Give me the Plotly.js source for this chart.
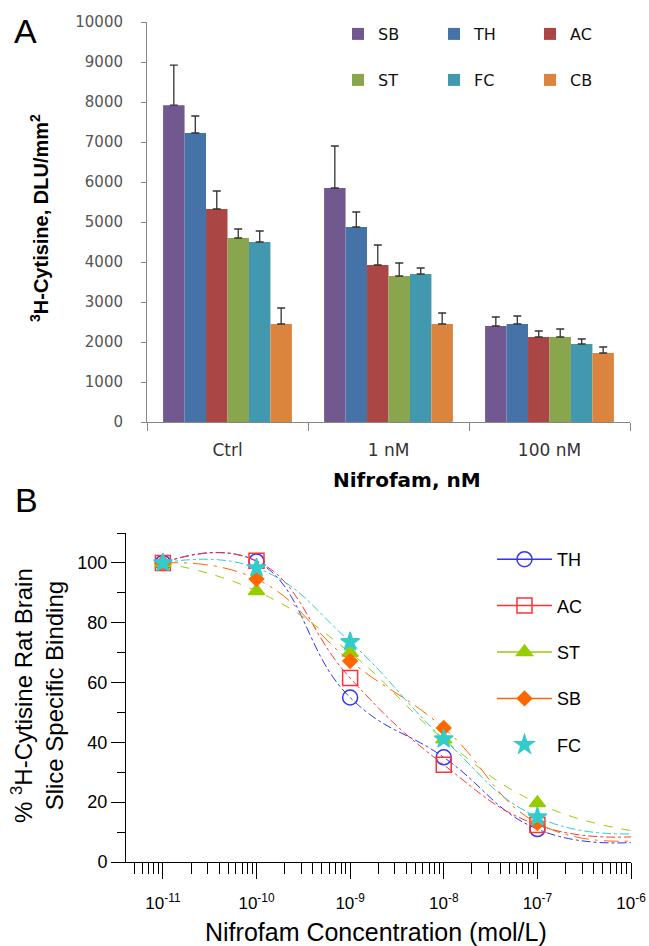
<!DOCTYPE html>
<html><head><meta charset="utf-8">
<script src="https://cdn.plot.ly/plotly-3.0.1.min.js"></script>
<style>html,body{margin:0;padding:0;background:#fff}</style>
</head><body><div id="chart" style="width:649px;height:946px"></div>
<script>
// ---------- Panel A data ----------
const groupsA = ['Ctrl', '1 nM', '100 nM'];
const namesA = ['SB', 'TH', 'AC', 'ST', 'FC', 'CB'];
const sbA = [7920, 5850, 2400], sbAErr = [1000, 1050, 225];
const thA = [7225, 4875, 2450], thAErr = [425, 375, 200];
const acA = [5325, 3925, 2125], acAErr = [450, 500, 150];
const stA = [4600, 3650, 2125], stAErr = [225, 325, 200];
const fcA = [4500, 3700, 1950], fcAErr = [275, 150, 125];
const cbA = [2450, 2450, 1725], cbAErr = [400, 275, 150];
const yTicksA = [0, 1000, 2000, 3000, 4000, 5000, 6000, 7000, 8000, 9000, 10000];

// ---------- Panel B data ----------
const concB = [1e-11, 1e-10, 1e-9, 1e-8, 1e-7, 1e-6];
const concLabelsB = ['10<sup>-11</sup>', '10<sup>-10</sup>', '10<sup>-9</sup>', '10<sup>-8</sup>', '10<sup>-7</sup>', '10<sup>-6</sup>'];
const thB = [100, 100.5, 55, 35, 11, 6.5];
const acB = [100, 100.7, 61.5, 32.5, 12.4, 8.4];
const stB = [100, 90.6, 70, 41, 19.7, 10.5];
const sbB = [100, 94.6, 67.2, 44.8, 13, 7];
const fcB = [100, 98.3, 73.6, 41.1, 15, 9.4];

const W = 649, H = 946;
const px = v => v / W, py = v => 1 - v / H;

const barColors = {SB:'#71588F', TH:'#4572A7', AC:'#AA4643', ST:'#89A54E', FC:'#4198AF', CB:'#DB843D'};
const valsA = {SB:sbA, TH:thA, AC:acA, ST:stA, FC:fcA, CB:cbA};
const errsA = {SB:sbAErr, TH:thAErr, AC:acAErr, ST:stAErr, FC:fcAErr, CB:cbAErr};

const traces = [];
namesA.forEach((n, i) => {
  traces.push({
    type: 'bar', name: n, x: groupsA, y: valsA[n],
    xaxis: 'x', yaxis: 'y',
    legend: i < 3 ? 'legend' : 'legend2',
    marker: {color: barColors[n], line: {width: 0}},
    error_y: {type: 'data', array: errsA[n], symmetric: false, arrayminus: [0,0,0], color: '#333', thickness: 1.3, width: 4},
    hoverinfo: 'skip'
  });
});

const seriesB = [
  {n:'TH', y:thB, c:'#3333ff', sym:'circle-open', sz:15, dash:'dashdot'},
  {n:'AC', y:acB, c:'#ff3333', sym:'square-open', sz:15, dash:'dashdot'},
  {n:'ST', y:stB, c:'#99cc00', sym:'triangle-up', sz:14, dash:'dash'},
  {n:'SB', y:sbB, c:'#ff6600', sym:'diamond', sz:11, dash:'longdashdot'},
  {n:'FC', y:fcB, c:'#33cccc', sym:'star', sz:14, dash:'dashdot'}
];
seriesB.forEach(s => {
  traces.push({
    type: 'scatter', mode: 'lines+markers', name: s.n, x: concB, y: s.y,
    xaxis: 'x2', yaxis: 'y2', showlegend: false, cliponaxis: false,
    line: {color: s.c, width: 1, dash: s.dash, shape: 'spline', smoothing: 1.3},
    marker: {symbol: s.sym, size: s.sz, color: s.c, line: {color: s.c, width: 1.5}},
    hoverinfo: 'skip'
  });
});
// legend entries for panel B (solid line in legend)
seriesB.forEach(s => {
  traces.push({
    type: 'scatter', mode: s.n === 'FC' ? 'markers' : 'lines+markers', name: s.n,
    x: [null], y: [null], xaxis: 'x2', yaxis: 'y2',
    legend: 'legend3', legendgroup: 'g' + s.n,
    line: {color: s.c, width: 1.5},
    marker: {symbol: s.sym, size: s.sz, color: s.c, line: {color: s.c, width: 1.5}},
    hoverinfo: 'skip'
  });
});

const legendFontA = {family: 'DejaVu Sans, sans-serif', size: 16, color: '#111'};
const layout = {
  width: W, height: H,
  margin: {l: 0, r: 0, t: 0, b: 0, autoexpand: false},
  paper_bgcolor: '#fff', plot_bgcolor: 'rgba(0,0,0,0)',
  barmode: 'group', bargap: 0.2, bargroupgap: 0,
  showlegend: true,
  xaxis: {
    domain: [px(147), px(630)], anchor: 'y', type: 'category', automargin: false,
    tickson: 'boundaries', ticks: 'outside', ticklen: 8, tickcolor: '#868686',
    showline: true, linecolor: '#868686', linewidth: 1, showgrid: false,
    tickfont: {family: 'DejaVu Sans, sans-serif', size: 17, color: '#333'},
    ticklabelstandoff: 13, fixedrange: true
  },
  yaxis: {
    domain: [py(422), py(22)], anchor: 'x', range: [0, 10000], automargin: false,
    tickmode: 'array', tickvals: yTicksA, ticktext: yTicksA.map(String),
    ticks: 'outside', ticklen: 5, tickcolor: '#868686',
    showline: true, linecolor: '#868686', linewidth: 1, showgrid: false, zeroline: false,
    tickfont: {family: 'DejaVu Sans, sans-serif', size: 15, color: '#555'},
    ticklabelstandoff: 15, fixedrange: true
  },
  xaxis2: {
    domain: [px(126), px(631)], anchor: 'y2', type: 'log', range: [-11.394, -6], automargin: false,
    tickmode: 'array', tickvals: concB, ticktext: concLabelsB,
    ticks: 'outside', ticklen: 16, tickcolor: '#000', tickwidth: 1,
    minor: {dtick: 'D1', ticks: 'outside', ticklen: 11, tickcolor: '#000', tickwidth: 1, showgrid: false},
    showline: true, linecolor: '#000', linewidth: 1, showgrid: false, zeroline: false,
    tickfont: {family: 'Liberation Sans, Arial, sans-serif', size: 17, color: '#000'},
    ticklabelstandoff: 10, fixedrange: true
  },
  yaxis2: {
    domain: [py(862), py(533)], anchor: 'x2', range: [0, 110], automargin: false,
    tick0: 0, dtick: 20,
    ticks: 'outside', ticklen: 14, tickcolor: '#000', tickwidth: 1,
    minor: {dtick: 10, ticks: 'outside', ticklen: 8, tickcolor: '#000', tickwidth: 1, showgrid: false},
    showline: true, linecolor: '#000', linewidth: 1, showgrid: false, zeroline: false,
    tickfont: {family: 'Liberation Sans, Arial, sans-serif', size: 18, color: '#000'},
    ticklabelstandoff: 0, fixedrange: true
  },
  legend: {
    orientation: 'h', x: px(338), y: py(17), xanchor: 'left', yanchor: 'top',
    entrywidth: 51, entrywidthmode: 'pixels', font: legendFontA,
    bgcolor: 'rgba(0,0,0,0)', borderwidth: 0
  },
  legend2: {
    orientation: 'h', x: px(338), y: py(63), xanchor: 'left', yanchor: 'top',
    entrywidth: 51, entrywidthmode: 'pixels', font: legendFontA,
    bgcolor: 'rgba(0,0,0,0)', borderwidth: 0
  },
  legend3: {
    orientation: 'v', x: px(492), y: py(541), xanchor: 'left', yanchor: 'top',
    traceorder: 'grouped', tracegroupgap: 20, itemwidth: 55,
    font: {family: 'Liberation Sans, Arial, sans-serif', size: 18, color: '#000'},
    bgcolor: 'rgba(0,0,0,0)', borderwidth: 0
  },
  annotations: [
    {text: 'A', xref: 'paper', yref: 'paper', x: px(25), y: py(31), xanchor: 'center', yanchor: 'middle', showarrow: false,
     font: {family: 'Liberation Sans, Arial, sans-serif', size: 34, color: '#000'}},
    {text: 'B', xref: 'paper', yref: 'paper', x: px(26), y: py(500), xanchor: 'center', yanchor: 'middle', showarrow: false,
     font: {family: 'Liberation Sans, Arial, sans-serif', size: 34, color: '#000'}},
    {text: '<sup>3</sup>H-Cytisine, DLU/mm<sup>2</sup>', xref: 'paper', yref: 'paper', x: px(40), y: py(218),
     xanchor: 'center', yanchor: 'middle', textangle: -90, showarrow: false,
     font: {family: 'Liberation Sans, Arial, sans-serif', size: 20, color: '#000', weight: 'bold'}},
    {text: 'Nifrofam, nM', xref: 'paper', yref: 'paper', x: px(407), y: py(480),
     xanchor: 'center', yanchor: 'middle', showarrow: false,
     font: {family: 'DejaVu Sans, sans-serif', size: 20, color: '#000', weight: 'bold'}},
    {text: 'Nifrofam Concentration (mol/L)', xref: 'paper', yref: 'paper', x: px(376), y: py(932),
     xanchor: 'center', yanchor: 'middle', showarrow: false,
     font: {family: 'Liberation Sans, Arial, sans-serif', size: 25, color: '#000'}},
    {text: '% <sup>3</sup>H-Cytisine Rat Brain<br>Slice Specific Binding', xref: 'paper', yref: 'paper', x: px(37), y: py(696),
     xanchor: 'center', yanchor: 'middle', textangle: -90, showarrow: false,
     font: {family: 'Liberation Sans, Arial, sans-serif', size: 24, color: '#000'}}
  ]
};

Plotly.newPlot('chart', traces, layout, {displayModeBar: false, responsive: false});
</script>
</body></html>
